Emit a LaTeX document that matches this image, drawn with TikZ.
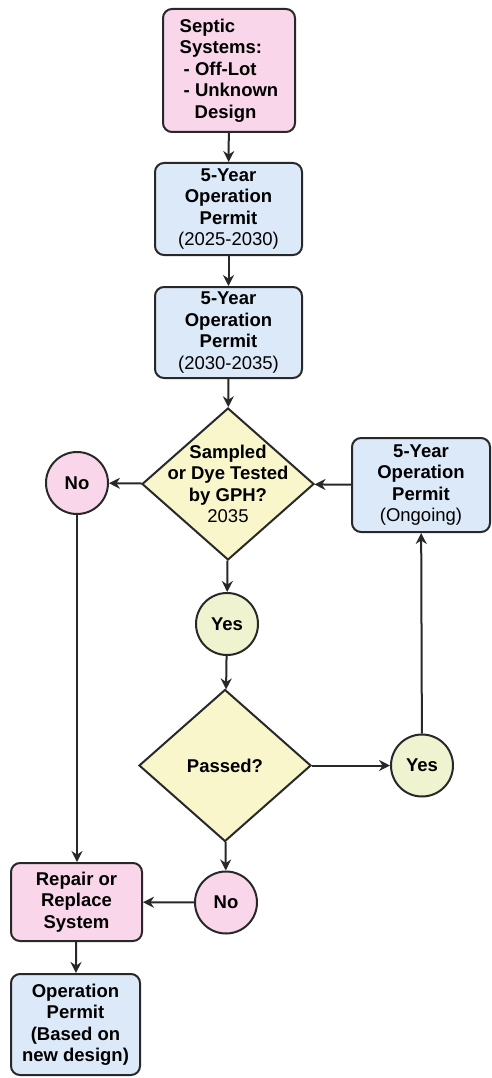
\documentclass[tikz,border=0pt]{standalone}
\usepackage{fontspec}
\setmainfont{Liberation Sans}
\usepackage{tikz}
\usetikzlibrary{arrows.meta,shapes.geometric,positioning}
\definecolor{Rose}{RGB}{249,214,234}
\definecolor{Ciel}{RGB}{219,233,248}
\definecolor{Paille}{RGB}{250,246,204}
\definecolor{Anis}{RGB}{239,243,207}
\definecolor{Trait}{RGB}{40,40,40}

\begin{document}
\begin{tikzpicture}[x=1pt,y=-1pt,
  font=\fontsize{18.5}{21.5}\selectfont\bfseries,
  box/.style={draw=Trait,line width=2pt,rounded corners=9pt,align=center,inner sep=0pt},
  pinkbox/.style={box,fill=Rose},
  bluebox/.style={box,fill=Ciel},
  dia/.style={diamond,draw=Trait,line width=2pt,fill=Paille,inner sep=0pt,minimum width=172pt,minimum height=152pt},
  disc/.style={circle,draw=Trait,line width=2pt,inner sep=0pt,minimum size=62pt},
  link/.style={draw=Trait,line width=2pt,-{Stealth[length=11pt,width=11pt]}}]
\useasboundingbox (0,0) rectangle (492,1078);
%
% main column
\node[pinkbox,align=left,minimum width=132pt,minimum height=123pt] (sep) at (229,70.5)
  {Septic\\Systems:\\\hspace*{4pt}- Off-Lot\\\hspace*{4pt}- Unknown\\\hspace*{15pt}Design};
\node[bluebox,minimum width=147pt,minimum height=92pt] (per1) at (228.5,209)
  {5-Year\\Operation\\Permit\\\textmd{(2025-2030)}};
\node[bluebox,minimum width=147pt,minimum height=91pt] (per2) at (228.5,332.5)
  {5-Year\\Operation\\Permit\\\textmd{(2030-2035)}};
\node[dia,label={[align=center]center:{Sampled\\or Dye Tested\\by GPH?\\\textmd{2035}}}] (chk) at (228,484) {};
\node[disc,fill=Rose] (noA) at (77,483) {No};
\node[bluebox,minimum width=138pt,minimum height=94pt] (ong) at (421,485)
  {5-Year\\Operation\\Permit\\\textmd{(Ongoing)}};
\node[disc,fill=Anis] (yesA) at (227,624) {Yes};
\node[dia] (pass) at (225,765.5) {Passed?};
\node[disc,fill=Anis] (yesB) at (422,765.5) {Yes};
\node[disc,fill=Rose] (noB) at (226,902.5) {No};
%
% left column
\node[pinkbox,minimum width=131pt,minimum height=78pt] (rep) at (76.5,902)
  {Repair or\\Replace\\System};
\node[bluebox,minimum width=129pt,minimum height=101pt] (newop) at (75.5,1024.5)
  {Operation\\Permit\\(Based on\\new design)};
%
% connectors
\draw[link] (sep) -- (per1);
\draw[link] (per1) -- (per2);
\draw[link] (per2) -- (chk);
\draw[link] (chk) -- (noA);
\draw[link] (ong) -- (chk);
\draw[link] (chk) -- (yesA);
\draw[link] (yesA) -- (pass);
\draw[link] (pass) -- (yesB);
\draw[link] (yesB) -- (ong);
\draw[link] (pass) -- (noB);
\draw[link] (noB) -- (rep);
\draw[link] (noA) -- (noA |- rep.north);
\draw[link] (rep) -- (newop);
%
\end{tikzpicture}
\end{document}
